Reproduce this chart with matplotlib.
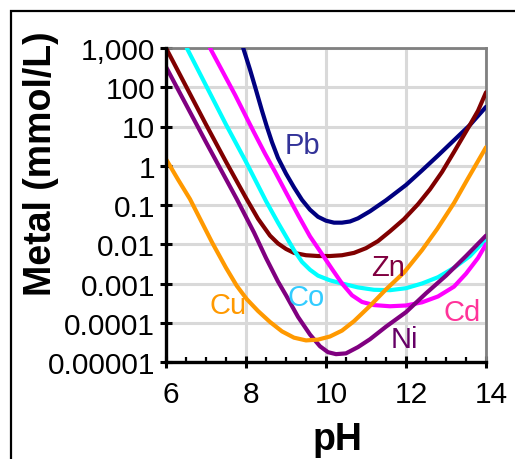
import numpy as np
import matplotlib
matplotlib.use("Agg")
import matplotlib.pyplot as plt
import matplotlib.transforms as mtransforms
from matplotlib.ticker import MultipleLocator, LogLocator, NullFormatter

plt.rcParams['font.family'] = ['Liberation Sans', 'DejaVu Sans']

# values: pH and log10 of metal concentration (mmol/L)
pb_ph = [7.93, 8.1, 8.23, 8.4, 8.52, 8.65, 8.8, 9.0, 9.2, 9.4, 9.6, 9.8, 10.0, 10.2, 10.4,
         10.6, 10.8, 11.1, 11.5, 12.0, 12.4, 12.8, 13.2, 13.6, 14.0]
pb_log = [3.0, 2.45, 2.0, 1.4, 1.0, 0.6, 0.2, -0.2, -0.55, -0.87, -1.12, -1.3, -1.4, -1.45, -1.45,
          -1.42, -1.34, -1.16, -0.88, -0.49, -0.12, 0.26, 0.65, 1.04, 1.5]

zn_ph = [6.0, 7.0, 7.5, 8.0, 8.3, 8.6, 8.8, 9.0, 9.2, 9.5, 9.8, 10.1, 10.4, 10.7, 11.0,
         11.3, 11.6, 11.95, 12.3, 12.6, 12.9, 13.2, 13.54, 13.8, 14.0]
zn_log = [3.0, 1.05, 0.1, -0.82, -1.35, -1.78, -1.98, -2.12, -2.22, -2.28, -2.3, -2.3, -2.28, -2.22, -2.1,
          -1.92, -1.67, -1.36, -0.98, -0.6, -0.16, 0.35, 0.94, 1.4, 1.87]

co_ph = [6.52, 7.5, 8.0, 8.5, 8.8, 9.0, 9.2, 9.4, 9.6, 9.8, 10.1, 10.4, 10.8, 11.2, 11.6,
         12.0, 12.4, 12.8, 13.2, 13.6, 14.0]
co_log = [3.0, 1.05, 0.1, -0.9, -1.45, -1.8, -2.15, -2.45, -2.65, -2.8, -2.92, -3.0, -3.1, -3.16, -3.17,
          -3.12, -3.0, -2.84, -2.6, -2.3, -1.87]

cd_ph = [7.1, 7.73, 8.2, 8.48, 8.73, 9.0, 9.31, 9.6, 9.9, 10.15, 10.4, 10.65, 10.9, 11.2, 11.6,
         12.0, 12.4, 12.8, 13.2, 13.5, 13.8, 14.0]
cd_log = [3.0, 1.8, 0.85, 0.3, -0.16, -0.68, -1.27, -1.8, -2.25, -2.63, -3.0, -3.3, -3.47, -3.55, -3.58,
          -3.56, -3.48, -3.33, -3.08, -2.75, -2.35, -2.0]

ni_ph = [6.0, 7.0, 7.77, 8.2, 8.5, 8.8, 9.0, 9.3, 9.6, 9.85, 10.05, 10.25, 10.5, 10.8, 11.1,
         11.5, 12.0, 12.5, 13.0, 13.5, 14.0]
ni_log = [2.52, 0.6, -0.85, -1.7, -2.35, -2.95, -3.3, -3.85, -4.3, -4.6, -4.75, -4.8, -4.78, -4.62, -4.42,
          -4.1, -3.73, -3.25, -2.8, -2.3, -1.78]

cu_ph = [6.0, 6.3, 6.6, 6.9, 7.15, 7.5, 7.77, 8.02, 8.3, 8.6, 8.9, 9.2, 9.5, 9.8, 10.1,
         10.4, 10.7, 11.1, 11.5, 11.95, 12.4, 12.78, 13.2, 13.54, 14.0]
cu_log = [0.17, -0.35, -0.85, -1.45, -1.95, -2.6, -3.06, -3.4, -3.7, -3.98, -4.22, -4.38, -4.45, -4.43, -4.35,
          -4.2, -3.96, -3.57, -3.15, -2.72, -2.15, -1.61, -0.95, -0.34, 0.47]

x_ticks = [6, 8, 10, 12, 14]
y_ticks = [1e-5, 1e-4, 1e-3, 1e-2, 1e-1, 1, 10, 100, 1000]
y_tick_labels = ["0.00001", "0.0001", "0.001", "0.01", "0.1", "1", "10", "100", "1,000"]

# label name, pH, log10 position
label_names = ["Pb", "Zn", "Co", "Cd", "Ni", "Cu"]
label_ph = [9.4, 11.56, 9.5, 13.4, 11.96, 7.55]
label_log = [0.53, -2.58, -3.35, -3.72, -4.42, -3.55]

line_colors = ["#000080", "#800000", "#00ffff", "#ff00ff", "#800080", "#ff9900"]
text_colors = ["#333399", "#800040", "#33ccff", "#ff3399", "#660066", "#ff9900"]

fig = plt.figure(figsize=(5.15, 4.6), dpi=100)
ax = fig.add_axes([166 / 515, 1 - 363 / 460, 320 / 515, 314 / 460])

series = [(pb_ph, pb_log), (zn_ph, zn_log), (co_ph, co_log),
          (cd_ph, cd_log), (ni_ph, ni_log), (cu_ph, cu_log)]
for (ph, lg), c in zip(series, line_colors):
    ax.plot(ph, 10 ** np.array(lg), color=c, lw=3.0, solid_capstyle='round',
            solid_joinstyle='round', zorder=3)

for name, x, lg, c in zip(label_names, label_ph, label_log, text_colors):
    ax.text(x, 10 ** lg, name, color=c, fontsize=21, ha='center', va='center', zorder=4)

ax.set_yscale('log')
ax.set_xlim(6, 14)
ax.set_ylim(1e-5, 1e3)
ax.set_xticks(x_ticks)
ax.set_yticks(y_ticks)
ax.set_yticklabels(y_tick_labels)
ax.xaxis.set_minor_locator(MultipleLocator(0.5))
ax.yaxis.set_minor_locator(LogLocator(base=10, subs=np.arange(2, 10)))
ax.yaxis.set_minor_formatter(NullFormatter())

ax.grid(True, which='major', color='#d9d9d9', lw=2.2, zorder=0)
ax.set_axisbelow(True)

for side in ['left', 'bottom']:
    ax.spines[side].set_color('black')
    ax.spines[side].set_linewidth(2.4)
    ax.spines[side].set_zorder(5)
for side in ['top', 'right']:
    ax.spines[side].set_color('#808080')
    ax.spines[side].set_linewidth(2.0)

ax.tick_params(which='major', direction='inout', length=8.6, width=2.2, labelsize=21.5, color='black')
ax.tick_params(axis='y', which='major', pad=3.5)
ax.tick_params(axis='x', which='major', pad=9)
ax.tick_params(which='minor', direction='in', length=3.8, width=1.6, color='black')

offset = mtransforms.ScaledTranslation(5 / 100, 0, fig.dpi_scale_trans)
for lab in ax.get_xticklabels():
    lab.set_transform(lab.get_transform() + offset)

fig.text(41 / 515, 1 - 164 / 460, "Metal (mmol/L)", rotation=90, fontsize=27,
         fontweight='bold', ha='center', va='center')
fig.text(337 / 515, 1 - 450 / 460, "pH", fontsize=27, fontweight='bold',
         ha='center', va='baseline')

frame = plt.Rectangle((10.5 / 515, -0.1), 1.2, 1 - 12 / 460 + 0.1, transform=fig.transFigure,
                      fill=False, edgecolor='black', lw=1.6, clip_on=False)
fig.add_artist(frame)

fig.savefig("out.png", dpi=100)
